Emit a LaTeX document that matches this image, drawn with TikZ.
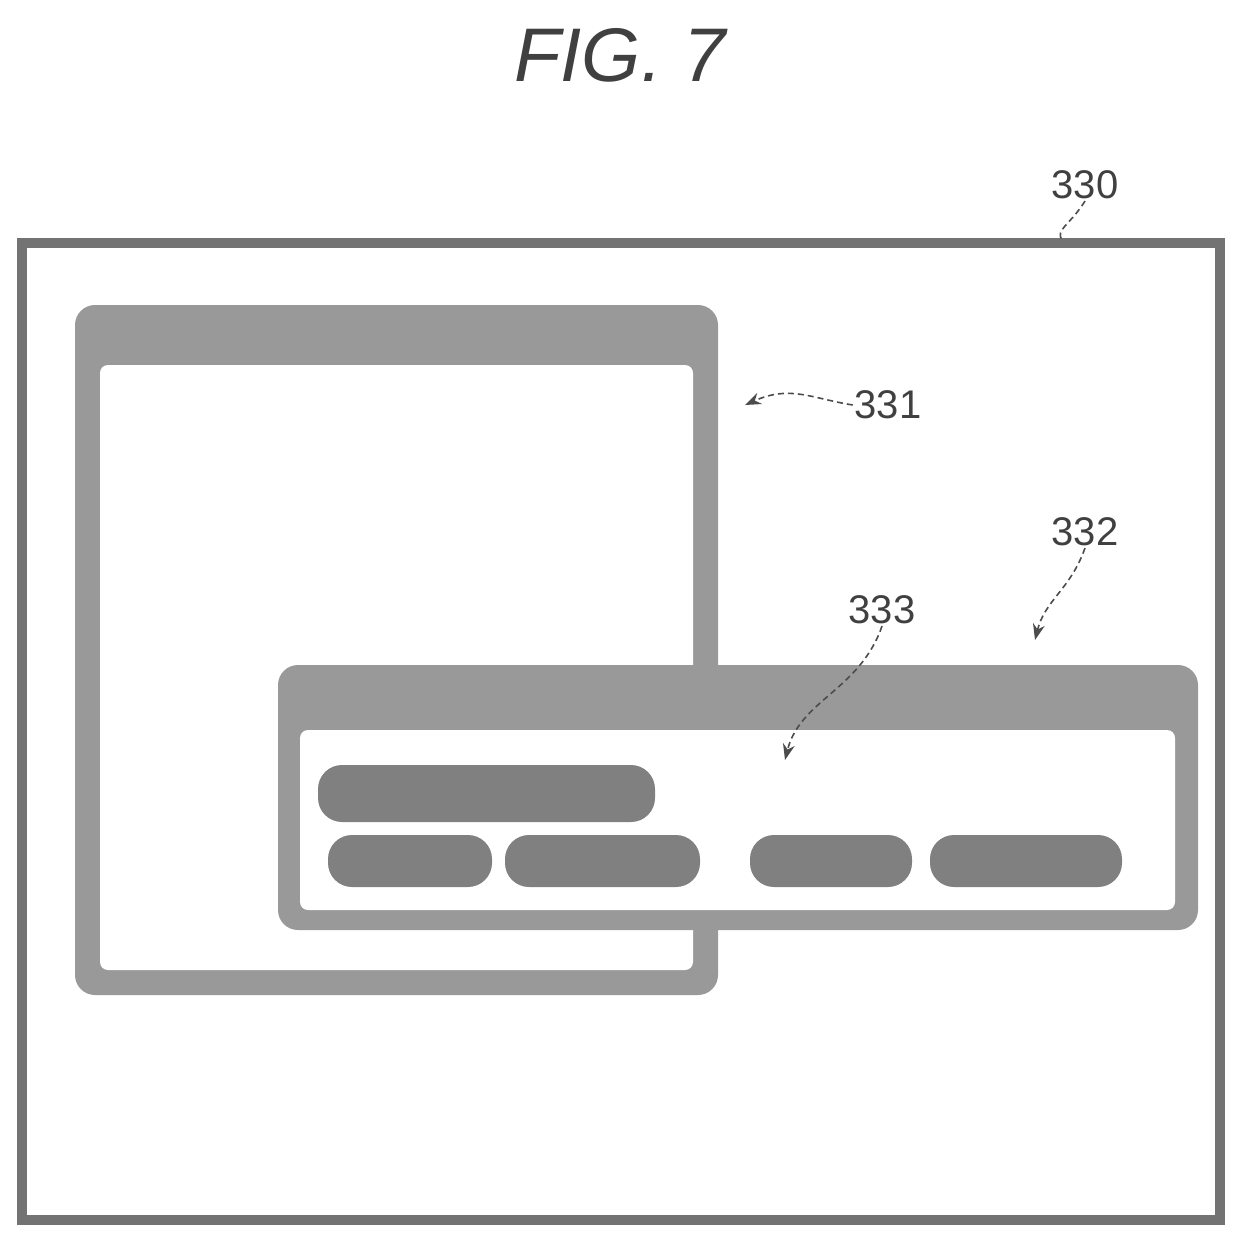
\documentclass[tikz,border=0pt]{standalone}
\usepackage{fontspec}
\setsansfont{Liberation Sans}
\usetikzlibrary{arrows.meta}
\tikzset{
  frame/.style={draw=black!55, line width=5pt},
  bar/.style={fill=black!45, draw=none, rounded corners=6pt},
  pill/.style={fill=black!50, draw=none, rounded corners=12pt},
  leader/.style={draw=black!70, densely dashed, line width=0.8pt},
  lbl/.style={font=\sffamily\fontsize{20}{20}\selectfont, text=black!75, inner sep=0.75pt}
}
\begin{document}
\begin{tikzpicture}[x=0.5pt,y=-0.5pt]
        \useasboundingbox (0,0) rectangle (1243,1243);
        % title
        \node[font=\sffamily\itshape\fontsize{38}{38}\selectfont, text=black!75] (fig) at (620,55) {FIG. 7};
        % outer screen
        \draw[frame] (22,243) rectangle (1220,1220);
        % window 331
        \fill[black!40, rounded corners=10pt] (75,305) rectangle (718,995);
        \fill[white, rounded corners=4pt] (100,365) rectangle (693,970);
        % window 332
        \fill[black!40, rounded corners=10pt] (278,665) rectangle (1198,930);
        \fill[white, rounded corners=4pt] (300,730) rectangle (1175,910);
        % items
        \fill[pill] (318,765) rectangle (655,822);
        \fill[pill] (328,835) rectangle (492,887);
        \fill[pill] (505,835) rectangle (700,887);
        \fill[pill] (750,835) rectangle (912,887);
        \fill[pill] (930,835) rectangle (1122,887);
        % labels
        \node[lbl] (l330) at (1085,185) {330};
        \node[lbl] (l331) at (888,405) {331};
        \node[lbl] (l332) at (1085,532) {332};
        \node[lbl] (l333) at (882,610) {333};
        \coordinate (e330) at (1062,240);
        \coordinate (e331) at (745,405);
        \coordinate (e332) at (1035,640);
        \coordinate (e333) at (785,760);
        \draw[leader] (l330.south) .. controls (1070,225) and (1055,230) .. (e330);
        \draw[leader, -{Stealth[length=8pt]}] (l331.west) .. controls (810,398) and (790,385) .. (e331);
        \draw[leader, -{Stealth[length=8pt]}] (l332.south) .. controls (1070,590) and (1045,600) .. (e332);
        \draw[leader, -{Stealth[length=8pt]}] (l333.south) .. controls (860,690) and (800,700) .. (e333);
\end{tikzpicture}
\end{document}
